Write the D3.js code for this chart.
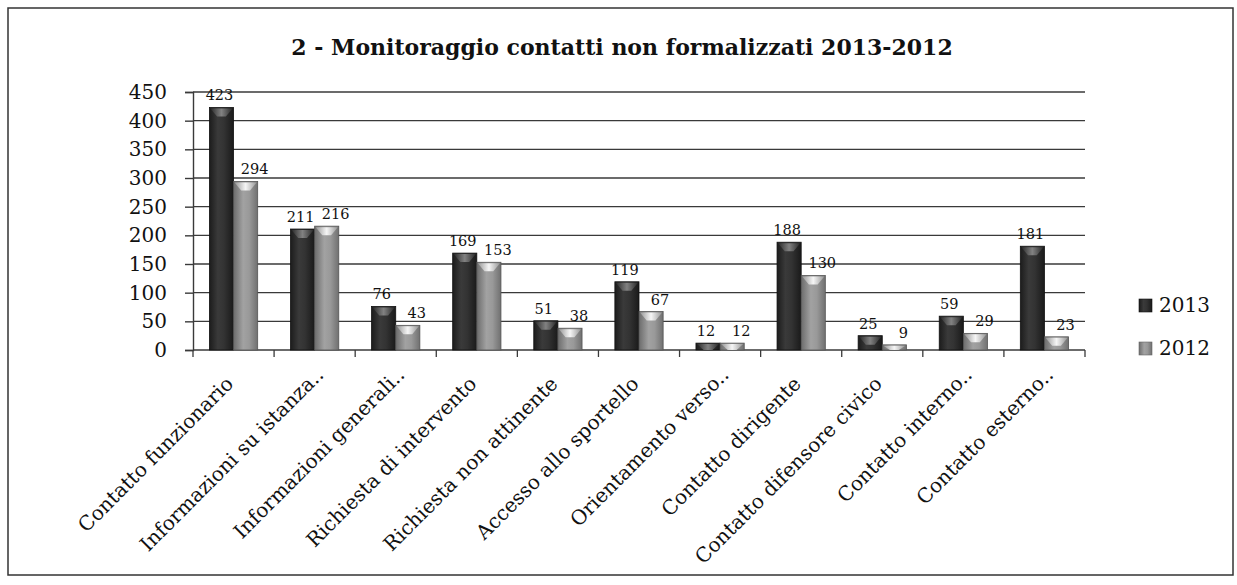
<!DOCTYPE html>
<html>
<head>
<meta charset="utf-8">
<script src="https://d3js.org/d3.v7.min.js"></script>
<style>
  body { margin: 0; background: #fff; }
  text { font-family: "DejaVu Serif", serif; fill: #111; }
</style>
</head>
<body>
<svg width="1237" height="585"></svg>
<script>

var categories = [
  "Contatto funzionario",
  "Informazioni su istanza..",
  "Informazioni generali..",
  "Richiesta di intervento",
  "Richiesta non attinente",
  "Accesso allo sportello",
  "Orientamento verso..",
  "Contatto dirigente",
  "Contatto difensore civico",
  "Contatto interno..",
  "Contatto esterno.."
];
var values2013 = [423, 211, 76, 169, 51, 119, 12, 188, 25, 59, 181];
var values2012 = [294, 216, 43, 153, 38, 67, 12, 130, 9, 29, 23];
var seriesNames = ["2013", "2012"];
var yTicks = [0, 50, 100, 150, 200, 250, 300, 350, 400, 450];

var svg = d3.select("svg"),
    width = +svg.attr("width"),
    height = +svg.attr("height");

var margin = {left: 193, right: 1085, top: 92, bottom: 350};

// gradients for the bar shading
var defs = svg.append("defs");
function grad(id, stops) {
  var g = defs.append("linearGradient").attr("id", id)
      .attr("x1", "0%").attr("x2", "100%").attr("y1", "0%").attr("y2", "0%");
  stops.forEach(function(s) {
    g.append("stop").attr("offset", s[0]).attr("stop-color", s[1]);
  });
}
grad("g2013", [["0%", "#1c1c1c"], ["35%", "#3a3a3a"], ["60%", "#333"], ["100%", "#1a1a1a"]]);
grad("g2012", [["0%", "#6c6c6c"], ["40%", "#a2a2a2"], ["65%", "#999"], ["100%", "#707070"]]);
grad("c2013", [["0%", "#2a2a2a"], ["50%", "#8a8a8a"], ["100%", "#2a2a2a"]]);
grad("c2012", [["0%", "#9a9a9a"], ["50%", "#ffffff"], ["100%", "#9a9a9a"]]);

// frame
svg.append("rect")
    .attr("x", 8).attr("y", 8)
    .attr("width", 1225).attr("height", 567)
    .attr("fill", "none").attr("stroke", "#333").attr("stroke-width", 1.5);

// title
svg.append("text")
    .attr("x", 622).attr("y", 55)
    .attr("text-anchor", "middle")
    .attr("font-weight", "bold")
    .attr("font-size", 22)
    .text("2 - Monitoraggio contatti non formalizzati 2013-2012");

var x = d3.scaleBand()
    .domain(categories)
    .range([margin.left, margin.right]);

var x1 = d3.scaleBand()
    .domain(seriesNames)
    .range([0, x.bandwidth()])
    .paddingOuter(0.68);

var y = d3.scaleLinear()
    .domain([0, 450])
    .range([margin.bottom, margin.top]);

// gridlines
svg.append("g")
    .selectAll("line")
    .data(yTicks.slice(1))
    .enter().append("line")
    .attr("x1", margin.left).attr("x2", margin.right)
    .attr("y1", function(d) { return y(d); })
    .attr("y2", function(d) { return y(d); })
    .attr("stroke", "#3a3a3a").attr("stroke-width", 1.4);

// y axis
var yAxis = svg.append("g")
    .attr("transform", "translate(" + margin.left + ",0)")
    .call(d3.axisLeft(y).tickValues(yTicks).tickSize(8).tickPadding(18));
yAxis.selectAll("text").attr("font-size", 20).attr("font-family", "DejaVu Serif").attr("fill", "#111");
yAxis.selectAll("line, path").attr("stroke", "#3a3a3a").attr("stroke-width", 1.4);

// x axis with ticks at band boundaries
var xAxis = svg.append("g");
xAxis.append("line")
    .attr("x1", margin.left).attr("x2", margin.right)
    .attr("y1", y(0)).attr("y2", y(0))
    .attr("stroke", "#3a3a3a").attr("stroke-width", 1.6);
xAxis.selectAll(".tk")
    .data(categories.map(function(c) { return x(c); }).concat([margin.right]))
    .enter().append("line")
    .attr("class", "tk")
    .attr("x1", function(d) { return d; }).attr("x2", function(d) { return d; })
    .attr("y1", y(0)).attr("y2", y(0) + 7)
    .attr("stroke", "#3a3a3a").attr("stroke-width", 1.3);

// x labels rotated; the trailing ".." hangs past the anchor point
var labelSize = 20;
var xLabels = svg.append("g")
    .selectAll("text")
    .data(categories)
    .enter().append("text")
    .attr("font-size", labelSize)
    .attr("text-anchor", "end")
    .text(function(d) { return d; });

var dotsProbe = svg.append("text").attr("font-size", labelSize).text("..");
var dotsW = dotsProbe.node().getComputedTextLength();
dotsProbe.remove();

xLabels.attr("transform", function(d) {
  var cx = x(d) + x.bandwidth() / 2 + 1, cy = y(0) + 35;
  return "translate(" + cx + "," + cy + ") rotate(-45)";
}).attr("x", function(d) { return d.slice(-2) == ".." ? dotsW : 0; });

// bars
var rows = categories.map(function(c, i) {
  return {cat: c, vals: [{s: "2013", v: values2013[i]}, {s: "2012", v: values2012[i]}]};
});

var groups = svg.append("g")
    .selectAll("g")
    .data(rows)
    .enter().append("g")
    .attr("transform", function(d) { return "translate(" + x(d.cat) + ",0)"; });

var bar = groups.selectAll("g")
    .data(function(d) { return d.vals; })
    .enter().append("g");

bar.append("rect")
    .attr("x", function(d) { return x1(d.s); })
    .attr("y", function(d) { return y(d.v); })
    .attr("width", x1.bandwidth())
    .attr("height", function(d) { return y(0) - y(d.v); })
    .attr("fill", function(d) { return d.s == "2013" ? "url(#g2013)" : "url(#g2012)"; })
    .attr("stroke", function(d) { return d.s == "2013" ? "#111" : "#555"; })
    .attr("stroke-width", 0.8);

// little highlighted cap on top of each bar
bar.append("path")
    .attr("d", function(d) {
      var x0 = x1(d.s) + 1, w = x1.bandwidth() - 2, t = y(d.v) + 1;
      var h = Math.min(8, y(0) - y(d.v) - 1);
      return "M" + x0 + "," + t + "L" + (x0 + w) + "," + t +
             "L" + (x0 + w * 0.7) + "," + (t + h) + "L" + (x0 + w * 0.3) + "," + (t + h) + "Z";
    })
    .attr("fill", function(d) { return d.s == "2013" ? "url(#c2013)" : "url(#c2012)"; })
    .attr("opacity", 0.9);

// value labels
bar.append("text")
    .attr("x", function(d) { return x1(d.s) + x1.bandwidth() / 2 + (d.s == "2013" ? -2 : 9); })
    .attr("y", function(d) { return y(d.v) - 7; })
    .attr("text-anchor", "middle")
    .attr("font-size", 14.5)
    .text(function(d) { return d.v; });

// legend
var legend = svg.append("g")
    .selectAll("g")
    .data(seriesNames)
    .enter().append("g")
    .attr("transform", function(d, i) { return "translate(1139," + (299 + i * 43) + ")"; });

legend.append("rect")
    .attr("width", 13).attr("height", 13)
    .attr("fill", function(d) { return d == "2013" ? "url(#g2013)" : "url(#g2012)"; })
    .attr("stroke", function(d) { return d == "2013" ? "#111" : "#666"; })
    .attr("stroke-width", 0.6);

legend.append("text")
    .attr("x", 20).attr("y", 13)
    .attr("font-size", 20)
    .text(function(d) { return d; });

</script>
</body>
</html>
